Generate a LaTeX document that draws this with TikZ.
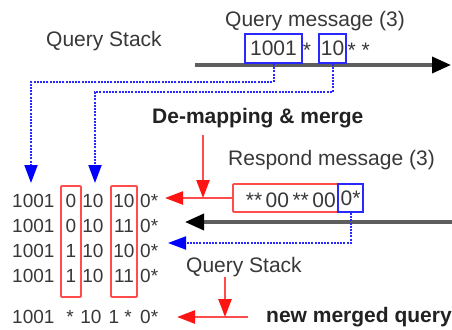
\documentclass[tikz,border=0pt]{standalone}
\usepackage{fontspec}
\setmainfont{Liberation Sans}
\usetikzlibrary{arrows.meta}
\definecolor{txt}{HTML}{383838}
\definecolor{txtb}{HTML}{222222}
\definecolor{linegray}{HTML}{5E5E5E}
\definecolor{qblue}{HTML}{2828FF}
\definecolor{tipblue}{HTML}{0000FF}
\definecolor{rred}{HTML}{FF4C4C}
\definecolor{tipred}{HTML}{FF1414}
\tikzset{
  lbl/.style={text=txt, font=\fontsize{21}{25}\selectfont, inner sep=0pt, anchor=base west},
  lblb/.style={text=txtb, font=\fontsize{21}{25}\selectfont\bfseries, inner sep=0pt, anchor=base west},
  rowtxt/.style={text=txt, font=\fontsize{19}{22}\selectfont, inner sep=0pt, anchor=base},
  rowtxtw/.style={rowtxt, anchor=base west},
  qbox/.style={draw=qblue, line width=1.8pt, inner sep=0pt, text=txt,
    font=\fontsize{21}{25}\selectfont},
  rbox/.style={draw=rred, line width=1.8pt, inner sep=0pt, rounded corners=1pt},
  msgline/.style={draw=linegray, line width=3.6pt,
    -{Triangle[length=19pt,width=16pt,color=black]}},
  bluedot/.style={draw=qblue, line width=2pt, dash pattern=on 2pt off 1.2pt},
  bluetip/.style={bluedot, -{Triangle[length=18pt,width=13pt,color=tipblue]}},
  redarrow/.style={draw=rred, line width=2.4pt,
    -{Triangle[length=18pt,width=13pt,color=tipred]}},
}
\begin{document}
\begin{tikzpicture}[x=1pt,y=-1pt]
\fill[white] (0,0) rectangle (452,329);
\useasboundingbox (0,0) rectangle (452,329);

% ---- outgoing query message ----
\node[lbl] (qstackA) at (46,47) {Query Stack};
\node[lbl] (qmsg) at (225,27) {Query message (3)};
\coordinate (qlineS) at (195,65);
\coordinate (qlineE) at (451,65);
\draw[msgline] (qlineS) -- (qlineE);
\node[qbox, minimum width=57pt, minimum height=29pt] (qa) at (273.5,48.5) {1001};
\node[lbl, anchor=base] (qstar) at (307,58) {*};
\node[qbox, minimum width=27pt, minimum height=29pt] (qb) at (332.5,48.5) {10};
\node[lbl] (qstars) at (347.5,58) {* *};

% dotted mapping of the query fields down to the stack
\coordinate (bendA) at (0,82);
\coordinate (bendB) at (0,92);
\coordinate (tipA) at (31,183);
\coordinate (tipB) at (95,183);
\draw[bluetip] (qa.south) -- (qa.south |- bendA) -| (tipA);
\draw[bluetip] (qb.south) -- (qb.south |- bendB) -| (tipB);

% ---- de-mapping ----
\node[lblb] (demap) at (152,123) {De-mapping \& merge};
\node[lbl] (rmsg) at (228,165) {Respond message (3)};
\node[rbox, minimum width=105pt, minimum height=28pt] (rb1) at (285.5,198) {};
\node[lbl, anchor=base east] (rtxt) at (336,207) {{*}{*}\,00\,{*}{*}\,00};
\node[qbox, minimum width=25pt, minimum height=28pt] (rb2) at (350.5,198) {0*};
\coordinate (redtipA) at (165,198);
\draw[redarrow] (rb1.west) -- (redtipA);
\coordinate (downA) at (203,135);
\draw[redarrow] (downA) -- (downA |- rb1.west);

% incoming response line
\coordinate (rlineS) at (453,222);
\coordinate (rlineE) at (185,222);
\draw[msgline] (rlineS) -- (rlineE);
\coordinate (tipC) at (168,243);
\draw[bluetip] (rb2.south) |- (tipC);

\node[lbl] (qstackB) at (186,272) {Query Stack};

% ---- stack entries ----
\foreach \yy/\ca/\cb [count=\i] in {207/0/10, 232/0/11, 257/1/10, 282/1/11} {
  \node[rowtxtw] (ra\i) at (12,\yy) {1001};
  \node[rowtxt] (rc\i) at (71,\yy) {\ca};
  \node[rowtxt] (rd\i) at (93,\yy) {10};
  \node[rowtxt] (re\i) at (124,\yy) {\cb};
  \node[rowtxtw] (rf\i) at (140,\yy) {0*};
}
\node[rbox, minimum width=20pt, minimum height=111pt] (colA) at (71,241.5) {};
\node[rbox, minimum width=26pt, minimum height=111pt] (colB) at (124,241.5) {};

% ---- merged result ----
\node[rowtxtw] (ma) at (12,323) {1001};
\node[rowtxt] (mb) at (70,323) {*};
\node[rowtxt] (mc) at (91,323) {10};
\node[rowtxt] (md) at (114,323) {1};
\node[rowtxt] (me) at (128,323) {*};
\node[rowtxtw] (mf) at (140,323) {0*};

\coordinate (downB) at (225,277);
\coordinate (mergeR) at (248,317);
\coordinate (mergeL) at (177,317);
\draw[redarrow] (mergeR) -- (mergeL);
\draw[redarrow] (downB) -- (downB |- mergeL);
\node[lblb] (newq) at (266,322) {new merged query};
\end{tikzpicture}
\end{document}
